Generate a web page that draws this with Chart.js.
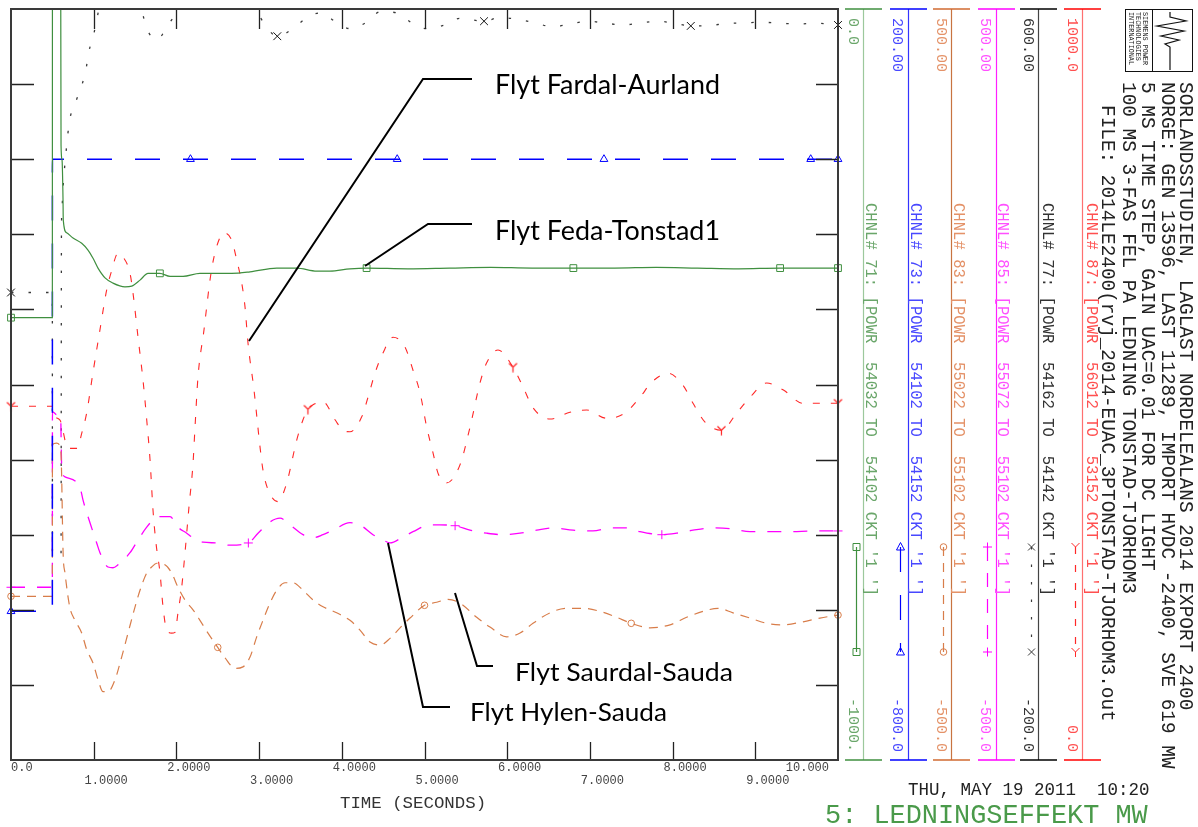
<!DOCTYPE html>
<html>
<head>
<meta charset="utf-8">
<title>Ledningseffekt MW</title>
<script src="https://cdn.jsdelivr.net/npm/chart.js@4.4.1/dist/chart.umd.min.js"></script>
<style>
html,body{margin:0;padding:0;background:#fff;overflow:hidden}
canvas{display:block}
</style>
</head>
<body>
<canvas id="c" width="1198" height="827" style="width:1198px;height:827px"></canvas>
<script>
// ================= DATA =================
const xTickValues = [0,1,2,3,4,5,6,7,8,9,10];
const xTickLabels = ['0.0','1.0000','2.0000','3.0000','4.0000','5.0000','6.0000','7.0000','8.0000','9.0000','10.000'];

const chanNames = [
  "CHNL# 71: [POWR  54032 TO  54102 CKT '1 ']",
  "CHNL# 73: [POWR  54102 TO  54152 CKT '1 ']",
  "CHNL# 83: [POWR  55022 TO  55102 CKT '1 ']",
  "CHNL# 85: [POWR  55072 TO  55102 CKT '1 ']",
  "CHNL# 77: [POWR  54162 TO  54142 CKT '1 ']",
  "CHNL# 87: [POWR  56012 TO  53152 CKT '1 ']"
];
const chanMin = [-1000, -800, -500, -500, -200, 0];
const chanMax = [0, 200, 500, 500, 600, 1000];
const chanTopLabels = ['0.0','200.00','500.00','500.00','600.00','1000.0'];
const chanBottomLabels = ['-1000.','-800.0','-500.0','-500.0','-200.0','0.0'];

// CHNL 71 (green)
const greenT = [0,0.5,0.501,0.6,0.605,0.617,0.629,0.632,0.673,0.75,0.855,0.931,0.992,1.052,1.137,1.233,1.378,1.46,1.56,1.657,1.80,1.923,2.08,2.285,2.669,2.89,3.213,3.455,3.697,3.857,4.099,4.30,4.8,5.3,5.8,6.3,6.8,7.3,7.8,8.3,8.8,9.3,9.7,10];
const greenV = [-411,-411,100,100,-181,-201,-254,-281,-298,-305,-312,-321,-332,-345,-358,-365,-370,-369,-361,-352,-352,-356,-356,-352,-352,-350,-345,-345,-349,-349,-346,-345,-346,-345,-344,-345,-345,-345,-344,-345,-346,-345,-345,-345];
const greenMarks = [0,1.80,4.30,6.80,9.30,10];

// CHNL 73 (blue)
const blueT = [0,0.5,0.501,2.17,4.67,7.17,9.67,10];
const blueV = [-602,-602,0,0,0,0,0,0];
const blueMarks = [0,2.17,4.67,7.17,9.67,10];

// CHNL 83 (orange)
const orangeT = [0,0.5,0.501,0.55,0.6,0.61,0.63,0.653,0.71,0.774,0.855,0.915,0.992,1.052,1.113,1.173,1.258,1.338,1.415,1.5,1.56,1.641,1.701,1.762,1.862,1.943,2.019,2.104,2.201,2.285,2.382,2.50,2.588,2.709,2.805,2.890,2.971,3.047,3.132,3.213,3.313,3.41,3.531,3.652,3.773,3.938,4.099,4.22,4.341,4.462,4.583,4.704,4.825,5.00,5.148,5.284,5.429,5.631,5.792,5.994,6.155,6.312,6.518,6.72,6.917,7.122,7.324,7.50,7.727,7.969,8.17,8.368,8.549,8.73,8.936,9.138,9.335,9.577,9.782,10];
const orangeV = [-282,-282,-80,-78,-85,-110,-224,-251,-296,-314,-331,-353,-371,-393,-409,-409,-393,-363,-331,-296,-274,-251,-243,-238,-240,-251,-270,-287,-300,-314,-331,-350,-364,-378,-376,-363,-336,-314,-291,-274,-264,-264,-274,-287,-296,-304,-314,-327,-343,-347,-338,-324,-311,-294,-290,-286,-291,-310,-323,-336,-331,-318,-304,-298,-298,-302,-310,-318,-324,-320,-310,-302,-298,-304,-311,-318,-320,-316,-311,-307];
const orangeMarks = [0,2.50,5.00,7.50,10];

// CHNL 85 (magenta)
const magentaT = [0,0.5,0.501,0.55,0.6,0.613,0.653,0.834,0.871,0.955,1.036,1.076,1.173,1.233,1.294,1.439,1.536,1.641,1.741,1.802,1.923,2.019,2.125,2.201,2.322,2.487,2.648,2.87,2.987,3.132,3.253,3.374,3.531,3.652,3.773,3.894,4.099,4.22,4.377,4.498,4.583,4.740,4.861,5.067,5.187,5.37,5.550,5.752,5.949,6.155,6.357,6.554,6.796,7.037,7.243,7.445,7.606,7.87,8.05,8.247,8.489,8.694,8.936,9.177,9.419,9.698,10];
const magentaV = [-270,-270,-36,-40,-42,-110,-123,-137,-154,-184,-211,-224,-243,-244,-240,-224,-207,-190,-178,-176,-176,-190,-198,-204,-210,-211,-214,-211,-198,-183,-178,-187,-200,-204,-200,-194,-184,-187,-200,-207,-211,-203,-196,-187,-187,-188,-194,-198,-200,-198,-194,-191,-194,-195,-191,-191,-196,-200,-198,-194,-191,-192,-196,-196,-196,-195,-195];
const magentaMarks = [0,2.87,5.37,7.87,10];

// CHNL 77 (black)
const blackT = [0,0.5,0.501,0.6,0.605,0.61,0.617,0.629,0.645,0.665,0.686,0.717,0.786,0.85,0.907,0.94,1.0,1.04,1.076,1.2,1.318,1.45,1.584,1.638,1.765,1.886,2.007,2.15,2.4,2.648,2.85,2.975,3.071,3.22,3.422,3.579,3.748,3.930,4.105,4.30,4.462,4.667,4.849,5.03,5.242,5.423,5.72,5.913,6.119,6.348,6.548,6.759,6.977,7.183,7.400,7.606,7.823,8.005,8.22,8.428,8.670,8.851,9.039,9.282,9.528,9.710,10];
const blackV = [298,298,18,18,18,361,389,409,428,447,466,485,502,517,536,554,573,590,605,625,630,620,597,580,567,581,597,615,628,625,610,597,583,571,580,591,596,586,579,586,597,596,585,579,583,590,587,591,589,585,581,584,587,585,583,585,587,585,582,582,585,585,586,585,584,585,583];
const blackMarks = [0,3.22,5.72,8.22,10];

// CHNL 87 (red)
const redT = [0,0.5,0.508,0.59,0.69,0.80,0.855,0.915,0.99,1.076,1.157,1.218,1.294,1.354,1.439,1.475,1.536,1.596,1.641,1.681,1.717,1.753,1.802,1.838,1.883,1.943,1.983,2.019,2.064,2.104,2.152,2.201,2.225,2.261,2.334,2.366,2.406,2.455,2.527,2.563,2.669,2.729,2.790,2.830,2.866,2.938,3.011,3.047,3.108,3.228,3.334,3.455,3.531,3.59,3.652,3.773,3.918,4.015,4.099,4.241,4.317,4.401,4.498,4.619,4.764,4.861,4.946,5.027,5.103,5.163,5.268,5.429,5.55,5.671,5.752,5.889,6.07,6.191,6.312,6.518,6.759,6.961,7.203,7.425,7.606,7.747,7.944,8.126,8.247,8.392,8.59,8.775,8.936,9.138,9.335,9.577,9.819,10];
const redV = [471,471,462,453,415,415,435,462,515,573,626,652,675,670,648,622,563,506,453,400,333,289,249,204,173,169,170,196,230,276,337,395,443,510,573,603,639,670,696,702,692,666,635,603,555,493,417,386,360,344,369,426,453,467,473,477,453,439,437,457,483,515,542,563,550,519,489,443,409,382,369,393,443,502,529,546,523,497,469,454,463,466,455,462,483,503,515,499,475,450,439,462,483,502,493,475,475,475];
const redMarks = [0,3.59,6.07,8.59,10];

const titleLines = [
  'SORLANDSSTUDIEN, LAGLAST NORDELEALANS 2014 EXPORT 2400',
  'NORGE: GEN 13596, LAST 11289, IMPORT HVDC -2400, SVE 619 MW',
  '5 MS TIME STEP, GAIN UAC=0.01 FOR DC LIGHT',
  '100 MS 3-FAS FEL PA LEDNING TONSTAD-TJORHOM3',
  'FILE: 2014LE2400(rvj_2014-EUAC_3PTONSTAD-TJORHOM3.out'
];
const logoLines = ['SIEMENS POWER','TECHNOLOGIES','INTERNATIONAL'];
const annotTexts = ['Flyt Fardal-Aurland','Flyt Feda-Tonstad1','Flyt Saurdal-Sauda','Flyt Hylen-Sauda'];
const dateText = 'THU, MAY 19 2011  10:20';
const xTitle = 'TIME (SECONDS)';
const plotTitle = '5: LEDNINGSEFFEKT MW';

// ================= STYLES =================
function yCanvas(color){
  const c=document.createElement('canvas'); c.width=11; c.height=11;
  const g=c.getContext('2d'); g.strokeStyle=color; g.lineWidth=1.2;
  g.beginPath(); g.moveTo(1.5,1.5); g.lineTo(5.5,5.5); g.lineTo(9.5,1.5);
  g.moveTo(5.5,5.5); g.lineTo(5.5,10.5); g.stroke(); return c;
}
const styles = [
  {line:'#3f8f3f', text:'#6aa66a', vline:'#9cc89c', cap:'#3f8f3f', dash:[], width:1.2, marker:'rect', r:4.8},
  {line:'#0000ff', text:'#4848ff', vline:'#3434ff', cap:'#0000ff', dash:[25,23], width:1.5, marker:'triangle', r:4.5},
  {line:'#d87d4a', text:'#e49268', vline:'#c87440', cap:'#d06a30', dash:[9,7], width:1.2, marker:'circle', r:3.3},
  {line:'#ff00ff', text:'#ff50ff', vline:'#ff20ff', cap:'#ff00ff', dash:[14,12], width:1.3, marker:'cross', r:4.5},
  {line:'#3a3a3a', text:'#333333', vline:'#444444', cap:'#000000', dash:[2.5,15], width:1.3, marker:'crossRot', r:5.5},
  {line:'#ff2828', text:'#ff5050', vline:'#ff7070', cap:'#ff0000', dash:[7,11], width:1.1, marker:'Y', r:4}
];
const series = [
  {T:greenT, V:greenV, M:greenMarks},
  {T:blueT, V:blueV, M:blueMarks},
  {T:orangeT, V:orangeV, M:orangeMarks},
  {T:magentaT, V:magentaV, M:magentaMarks},
  {T:blackT, V:blackV, M:blackMarks},
  {T:redT, V:redV, M:redMarks}
];
const axisIds = ['y71','y73','y83','y85','y77','y87'];
const yImg = yCanvas('#ff2020');

const scales = { x:{type:'linear', min:0, max:10, display:false} };
axisIds.forEach((id,i)=>{ scales[id] = {type:'linear', min:chanMin[i], max:chanMax[i], display:false}; });

const datasets = series.map((s,i)=>{
  const st = styles[i];
  return {
    label: chanNames[i],
    data: s.T.map((t,k)=>({x:t, y:s.V[k]})),
    yAxisID: axisIds[i],
    borderColor: st.line,
    borderWidth: st.width,
    borderDash: st.dash,
    borderCapStyle: 'butt',
    fill: false,
    cubicInterpolationMode: 'monotone',
    pointStyle: st.marker==='Y' ? yImg : st.marker,
    pointRadius: ctx => { const t = ctx.raw ? ctx.raw.x : NaN; return s.M.some(m=>Math.abs(m-t)<1e-9) ? st.r : 0; },
    pointBorderColor: st.marker==='crossRot' ? '#111' : st.line,
    pointBackgroundColor: 'rgba(0,0,0,0)',
    pointBorderWidth: 1,
    pointHoverRadius: 0,
    clip: {left:8, top:0, right:8, bottom:0}
  };
});

// ================= DRAW HELPERS =================
function vtext(ctx, text, x, y, font, color, align){
  ctx.save(); ctx.translate(x,y); ctx.rotate(Math.PI/2);
  ctx.font=font; ctx.fillStyle=color; ctx.textAlign=align||'left'; ctx.textBaseline='middle';
  ctx.fillText(text,0,0); ctx.restore();
}
function marker(ctx, style, x, y, color){
  ctx.save(); ctx.strokeStyle=color; ctx.lineWidth=1; ctx.setLineDash([]);
  ctx.beginPath();
  switch(style){
    case 'rect': ctx.rect(x-3.5,y-3.5,7,7); break;
    case 'triangle': ctx.moveTo(x,y-4.5); ctx.lineTo(x+4,y+3); ctx.lineTo(x-4,y+3); ctx.closePath(); break;
    case 'circle': ctx.arc(x,y,3.3,0,Math.PI*2); break;
    case 'cross': ctx.moveTo(x-4.5,y); ctx.lineTo(x+4.5,y); ctx.moveTo(x,y-4.5); ctx.lineTo(x,y+4.5); break;
    case 'crossRot': ctx.moveTo(x-3.5,y-3.5); ctx.lineTo(x+3.5,y+3.5); ctx.moveTo(x+3.5,y-3.5); ctx.lineTo(x-3.5,y+3.5); break;
    case 'Y': ctx.moveTo(x-4,y-4); ctx.lineTo(x,y); ctx.lineTo(x+4,y-4); ctx.moveTo(x,y); ctx.lineTo(x,y+5); break;
  }
  ctx.stroke(); ctx.restore();
}
function fitText(ctx, text, left, baseline, width, cap){
  const fs = cap/0.7165;
  ctx.save(); ctx.font = fs+'px Lato'; ctx.fillStyle='#000'; ctx.textBaseline='alphabetic'; ctx.textAlign='left';
  const w = ctx.measureText(text).width;
  ctx.translate(left, baseline); ctx.scale(width/w, 1); ctx.fillText(text,0,0); ctx.restore();
}
function poly(ctx, pts){
  ctx.beginPath(); ctx.moveTo(pts[0][0],pts[0][1]);
  for(let i=1;i<pts.length;i++) ctx.lineTo(pts[i][0],pts[i][1]);
  ctx.stroke();
}

const deco = {
  id:'deco',
  afterDraw(chart){
    const ctx=chart.ctx, a=chart.chartArea, xs=chart.scales.x, yg=chart.scales.y71;
    ctx.save();
    // tick marks
    ctx.strokeStyle='#222'; ctx.lineWidth=1.3; ctx.setLineDash([]);
    ctx.beginPath();
    xTickValues.forEach(t=>{
      if(t===0||t===10) return;
      const px=Math.round(xs.getPixelForValue(t))+0.5;
      ctx.moveTo(px,a.top); ctx.lineTo(px,a.top+20);
      ctx.moveTo(px,a.bottom); ctx.lineTo(px,a.bottom-18);
    });
    for(let v=chanMin[0]+100; v<chanMax[0]; v+=100){
      const py=Math.round(yg.getPixelForValue(v))+0.5;
      ctx.moveTo(a.left,py); ctx.lineTo(a.left+23,py);
      ctx.moveTo(a.right,py); ctx.lineTo(a.right-22,py);
    }
    ctx.stroke();
    // frame
    ctx.lineWidth=2; ctx.strokeStyle='#3a3a3a';
    ctx.strokeRect(a.left,a.top,a.right-a.left,a.bottom-a.top);

    // x tick labels (staggered)
    ctx.font='12px "Liberation Mono"'; ctx.fillStyle='#444'; ctx.textBaseline='middle';
    xTickValues.forEach((t,i)=>{
      const px=xs.getPixelForValue(t);
      const y = (i%2===0) ? 768 : 781;
      if(i===xTickValues.length-1){ ctx.textAlign='right'; ctx.fillText(xTickLabels[i], px-9, y); }
      else if(i===0){ ctx.textAlign='left'; ctx.fillText(xTickLabels[i], px, y); }
      else { ctx.textAlign='center'; ctx.fillText(xTickLabels[i], px+12.5, y); }
    });
    ctx.font='17.4px "Liberation Mono"'; ctx.fillStyle='#333'; ctx.textAlign='left';
    ctx.fillText(xTitle, 340, 803);

    // channel panels
    const vlx=[863,908,951,996,1038,1082];
    const valx=[853,897,941,985,1028,1072];
    const chx=[870,915,958,1002,1047,1091];
    const smx=[856,900,943,987,1031,1075];
    for(let i=0;i<6;i++){
      const st=styles[i];
      ctx.setLineDash([]); ctx.lineWidth=1.2;
      ctx.strokeStyle=st.vline; poly(ctx,[[vlx[i]+0.5,9],[vlx[i]+0.5,760]]);
      ctx.strokeStyle=st.cap; ctx.lineWidth=1.5;
      poly(ctx,[[vlx[i]-18,9],[vlx[i]+19,9]]);
      poly(ctx,[[vlx[i]-18,760],[vlx[i]+19,760]]);
      vtext(ctx, chanTopLabels[i], valx[i], 18, '15px "Liberation Mono"', st.text, 'left');
      vtext(ctx, chanBottomLabels[i], valx[i], 752, '15px "Liberation Mono"', st.text, 'right');
      vtext(ctx, chanNames[i], chx[i], 203, '15.6px "Liberation Mono"', st.text, 'left');
      // sample line
      ctx.strokeStyle=st.line; ctx.lineWidth=1.2; ctx.setLineDash(st.dash);
      poly(ctx,[[smx[i]+0.5,547],[smx[i]+0.5,652]]);
      ctx.setLineDash([]);
      marker(ctx, st.marker, smx[i]+0.5, 547, st.line);
      marker(ctx, st.marker, smx[i]+0.5, 652, st.line);
    }

    // title lines
    const tx=[1185,1167,1147,1128,1107], ty=[82,82,82,82,105];
    titleLines.forEach((s,i)=>vtext(ctx, s, tx[i], ty[i], '19.4px "Liberation Mono"', '#222', 'left'));

    // logo
    ctx.setLineDash([]); ctx.strokeStyle='#111'; ctx.lineWidth=1;
    ctx.strokeRect(1125.5,9.5,67,62);
    poly(ctx,[[1152.5,10],[1152.5,71]]);
    ctx.lineWidth=1.2;
    poly(ctx,[[1170,12],[1170,17],[1186,21],[1157,26],[1184,31],[1161,36],[1179,40],[1165,44],[1170,47],[1170,70]]);
    const lx=[1145,1138,1131];
    logoLines.forEach((s,i)=>vtext(ctx,s,lx[i],12,'6.8px "Liberation Mono"','#222','left'));

    // date and plot title
    ctx.textAlign='left'; ctx.textBaseline='middle';
    ctx.font='17.5px "Liberation Mono"'; ctx.fillStyle='#222';
    ctx.fillText(dateText, 908, 790);
    ctx.font='26.9px "Liberation Mono"'; ctx.fillStyle='#4a9a4a';
    ctx.fillText(plotTitle, 825, 816);

    // annotations
    ctx.strokeStyle='#000'; ctx.lineWidth=2; ctx.setLineDash([]);
    poly(ctx,[[472,79],[423,79],[249,341]]);
    poly(ctx,[[472,224],[428,224],[365,266]]);
    poly(ctx,[[455,593],[477,666],[493,666]]);
    poly(ctx,[[388,543],[423,707],[450,707]]);
    fitText(ctx, annotTexts[0], 495, 94, 225, 18.8);
    fitText(ctx, annotTexts[1], 495, 240, 225, 18.8);
    fitText(ctx, annotTexts[2], 515, 681, 218, 18.3);
    fitText(ctx, annotTexts[3], 470, 721, 197, 18.0);
    ctx.restore();
  }
};

new Chart(document.getElementById('c'), {
  type:'line',
  data:{datasets},
  options:{
    responsive:false,
    animation:false,
    events:[],
    layout:{padding:{left:11, top:9, right:360, bottom:67}},
    scales,
    plugins:{legend:{display:false}, tooltip:{enabled:false}, title:{display:false}}
  },
  plugins:[deco]
});
</script>
</body>
</html>
